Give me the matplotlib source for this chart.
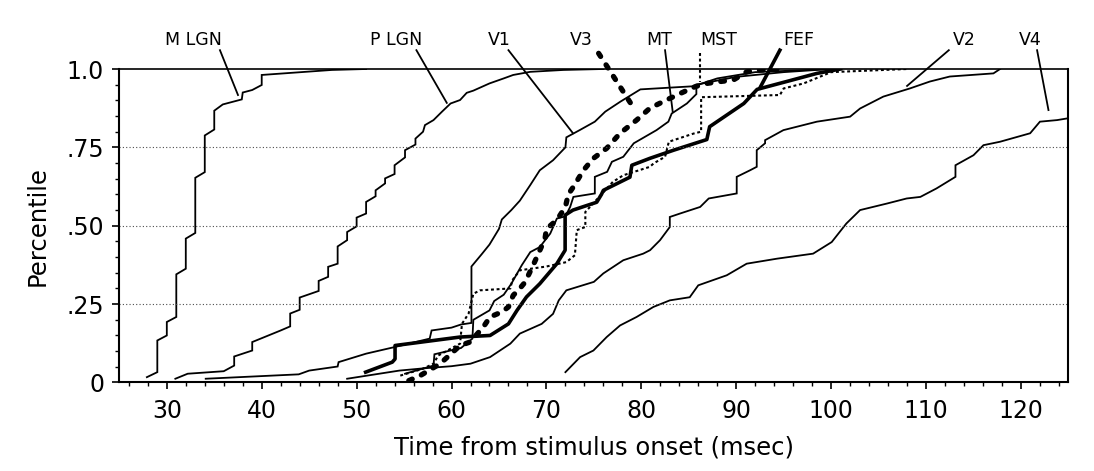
import matplotlib
matplotlib.use("Agg")
import matplotlib.pyplot as plt
from matplotlib.ticker import MultipleLocator, FixedLocator

plt.rcParams['font.family'] = ['DejaVu Sans']

# cumulative latency distributions (time in msec, percentile)
mlgn_t = [27.9, 29.0, 29.0, 30.0, 30.0, 31.0, 31.0, 32.0, 32.0, 33.0, 33.0, 34.0, 34.0, 35.0, 35.0,
          35.9, 37.9, 38.0, 39.0, 40.0, 40.0, 47.4, 51.0]
mlgn_p = [.017, .033, .134, .150, .193, .209, .345, .363, .459, .477, .653, .671, .788, .807, .867,
          .887, .903, .925, .933, .949, .981, .997, 1.0]

plgn_t = [30.9, 32.2, 36.0, 37.1, 37.1, 39.0, 39.0, 42.0, 43.0, 43.0, 44.0, 44.0, 46.0, 46.0, 47.0,
          47.0, 48.0, 48.0, 49.0, 49.0, 50.0, 50.0, 51.0, 51.0, 52.0, 52.0, 53.0, 53.0, 54.0, 54.0,
          55.1, 55.1, 56.2, 56.2, 57.0, 57.2, 58.1, 59.0, 59.9, 60.9, 61.6, 62.3, 64.0, 65.5, 66.5,
          68.3, 71.8, 76.0]
plgn_p = [.012, .028, .036, .054, .083, .102, .129, .166, .179, .220, .232, .271, .292, .324, .337,
          .369, .379, .434, .454, .480, .498, .526, .539, .576, .594, .613, .635, .651, .665, .693,
          .718, .741, .759, .778, .800, .821, .837, .864, .890, .901, .924, .931, .954, .970, .981,
          .991, .997, 1.0]

v1_t = [34.1, 43.9, 45.0, 48.0, 48.1, 51.0, 54.0, 57.7, 57.9, 60.0, 61.0, 62.1, 62.1, 63.2, 64.0,
        65.0, 65.3, 66.3, 67.2, 68.3, 69.3, 70.7, 72.0, 72.1, 73.5, 75.1, 76.2, 77.8, 79.9, 85.5,
        88.0, 92.0, 100.0]
v1_p = [.012, .026, .038, .051, .065, .092, .113, .140, .166, .175, .185, .190, .370, .410, .440,
        .490, .520, .550, .580, .630, .677, .709, .750, .782, .805, .832, .864, .896, .935, .945,
        .970, .990, 1.0]

v3_t = [55.5, 56.7, 58.8, 60.9, 61.95, 63.35, 64.06, 65.3, 66.0, 66.5, 67.2, 67.75, 68.6, 69.15,
        69.85, 70.0, 71.1, 72.0, 72.3, 72.84, 73.9, 74.95, 76.35, 77.76, 79.5, 80.9, 82.3, 84.1,
        85.7, 86.9, 88.3, 89.7, 91.1, 92.5, 95.0]
v3_p = [.006, .022, .060, .118, .129, .177, .209, .225, .241, .278, .300, .320, .374, .411,
        .459, .490, .518, .560, .600, .624, .677, .715, .747, .795, .837, .875, .896, .922,
        .944, .954, .960, .965, .991, .997, 1.0]

mt_t = [55.1, 58.1, 58.2, 61.0, 62.2, 62.3, 64.0, 64.5, 65.5, 66.3, 67.4, 68.3, 69.3, 70.4, 71.1,
        72.0, 72.5, 72.84, 75.1, 75.1, 76.4, 76.9, 78.1, 79.2, 81.6, 82.85, 83.2, 84.8, 85.8, 85.8,
        90.0, 95.0, 100.0]
mt_p = [.028, .054, .090, .110, .140, .200, .230, .260, .280, .315, .374, .416, .432, .475, .523,
        .530, .560, .592, .603, .656, .672, .704, .720, .763, .805, .832, .858, .890, .920, .950,
        .975, .990, 1.0]

mst_t = [54.6, 57.0, 58.1, 58.6, 60.9, 61.1, 61.8, 62.3, 63.0, 66.2, 66.4, 67.2, 70.0, 72.1, 73.0,
         73.2, 74.1, 74.1, 75.5, 77.0, 78.1, 80.9, 81.3, 82.5, 82.9, 85.5, 86.3, 86.3, 94.6, 95.0,
         97.1, 100.0, 108.0]
mst_p = [.022, .044, .060, .086, .124, .187, .220, .283, .294, .300, .326, .358, .370, .384, .406,
         .486, .496, .544, .590, .640, .661, .688, .699, .720, .768, .794, .800, .910, .917, .938,
         .954, .990, 1.0]

fef_t = [50.95, 53.76, 54.05, 54.05, 60.9, 64.06, 66.0, 66.9, 67.9, 69.3, 71.1, 71.97, 71.97, 72.8,
         75.3, 75.8, 76.0, 78.8, 79.0, 80.9, 83.4, 86.9, 87.2, 90.8, 92.2, 95.3, 98.5, 101.0]
fef_p = [.033, .065, .075, .118, .145, .150, .187, .230, .273, .315, .379, .422, .534, .550,
         .575, .600, .613, .655, .693, .715, .741, .775, .816, .890, .935, .960, .986, 1.0]

v2_t = [49.0, 54.5, 57.0, 60.0, 62.0, 64.06, 66.2, 67.2, 69.5, 70.7, 71.3, 72.1, 75.0, 76.0, 78.1,
        80.2, 80.92, 81.97, 83.0, 83.0, 84.08, 86.2, 87.1, 90.05, 90.05, 91.46, 92.16, 92.16, 93.04,
        93.04, 94.97, 98.5, 102.0, 103.05, 105.5, 108.3, 110.4, 112.5, 117.1, 117.8]
v2_p = [.012, .038, .045, .052, .060, .081, .124, .156, .187, .219, .262, .294, .321, .348, .390,
        .411, .422, .454, .496, .528, .539, .560, .587, .603, .656, .677, .688, .741, .763,
        .773, .805, .832, .848, .874, .912, .938, .960, .976, .986, 1.0]

v4_t = [72.0, 73.55, 74.95, 76.35, 77.76, 79.5, 81.27, 83.0, 85.1, 86.0, 89.0, 91.1, 94.3, 98.1,
        100.06, 101.6, 103.05, 105.9, 107.96, 109.4, 111.1, 113.1, 113.1, 115.0, 116.05, 117.8,
        120.97, 122.0, 123.8, 125.0]
v4_p = [.033, .081, .102, .145, .182, .209, .241, .262, .272, .310, .342, .379, .395, .411,
        .448, .507, .550, .571, .587, .592, .619, .656, .693, .725, .757, .768,
        .795, .832, .837, .843]

# area labels above the plot and their pointer lines
area_names = ['M LGN', 'P LGN', 'V1', 'V3', 'MT', 'MST', 'FEF', 'V2', 'V4']
label_t = [32.8, 54.2, 65.0, 73.7, 81.9, 88.2, 96.6, 114.0, 121.0]
leader_t0 = [35.6, 56.3, 66.0, 75.5, 82.5, 86.2, 94.6, 112.4, 121.7]
leader_p0 = [1.06, 1.06, 1.06, 1.05, 1.06, 1.05, 1.06, 1.06, 1.06]
leader_t1 = [37.5, 59.5, 72.8, 79.0, 83.3, 86.2, 92.5, 108.0, 122.9]
leader_p1 = [0.917, 0.892, 0.795, 0.885, 0.865, 0.96, 0.94, 0.946, 0.869]

thin = dict(color='black', lw=1.3, solid_joinstyle='miter')
heavy_dots = dict(color='black', lw=3.8, linestyle=(0, (0.7, 1.9)), dash_capstyle='round')
small_dots = dict(color='black', lw=1.5, linestyle=(0, (1.4, 1.3)))
thick = dict(color='black', lw=2.6)
styles = [thin, thin, thin, heavy_dots, thin, small_dots, thick, thin, thin]

fig = plt.figure(figsize=(10.94, 4.71), dpi=100)
ax = fig.add_axes([0.1091, 0.1879, 0.8675, 0.6656])

curves = [(mlgn_t, mlgn_p), (plgn_t, plgn_p), (v1_t, v1_p), (v3_t, v3_p), (mt_t, mt_p),
          (mst_t, mst_p), (fef_t, fef_p), (v2_t, v2_p), (v4_t, v4_p)]
for (t, p), st in zip(curves, styles):
    ax.plot(t, p, **st)

for i, name in enumerate(area_names):
    ax.text(label_t[i], 1.093, name, ha='center', va='center', fontsize=12.5, clip_on=False)
    ax.plot([leader_t0[i], leader_t1[i]], [leader_p0[i], leader_p1[i]], clip_on=False, **styles[i])

ax.set_xlim(25, 125)
ax.set_ylim(0, 1.0)
ax.xaxis.set_major_locator(MultipleLocator(10))
ax.xaxis.set_minor_locator(MultipleLocator(2))
ax.yaxis.set_major_locator(FixedLocator([0, .25, .5, .75, 1.0]))
ax.yaxis.set_minor_locator(MultipleLocator(0.05))
ax.set_yticklabels(['0', '.25', '.50', '.75', '1.0'])

ax.tick_params(which='major', direction='out', length=5, width=1.2, labelsize=17)
ax.tick_params(which='minor', direction='out', length=3, width=1.0)
ax.tick_params(axis='x', which='major', pad=7)
ax.tick_params(axis='y', which='major', pad=6)

for y in [.25, .5, .75]:
    ax.axhline(y, color='0.3', lw=0.8, linestyle=(0, (1, 2)))

for side in ['left', 'bottom', 'right']:
    ax.spines[side].set_linewidth(1.5)
ax.spines['top'].set_linewidth(1.2)

ax.set_xlabel('Time from stimulus onset (msec)', fontsize=17.5)
ax.set_ylabel('Percentile', fontsize=17.5)
ax.xaxis.set_label_coords(0.5, -0.17)
ax.yaxis.set_label_coords(-0.0857, 0.5)
ax.yaxis.label.set_va('center')

fig.savefig('out.png', dpi=100)
